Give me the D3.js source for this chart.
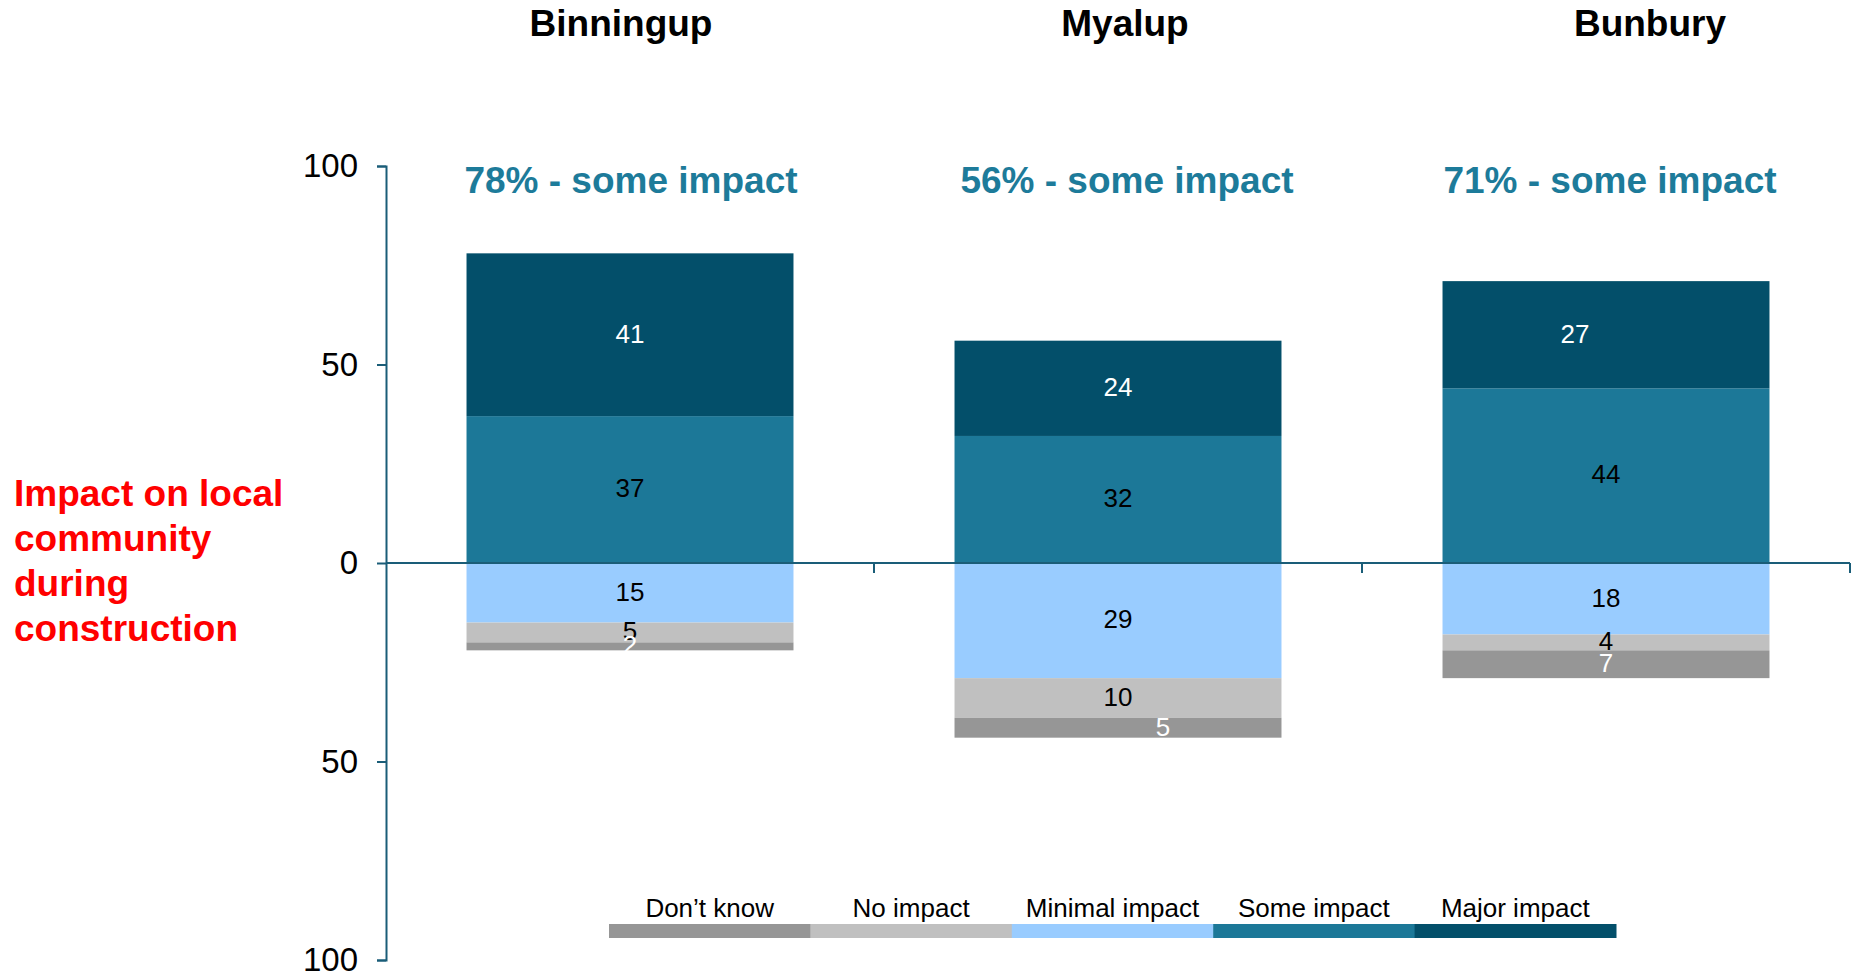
<!DOCTYPE html>
<html>
<head>
<meta charset="utf-8">
<script src="https://cdn.jsdelivr.net/npm/d3@7"></script>
<style>
  html, body { margin: 0; padding: 0; background: #fff; }
  svg { display: block; font-family: "Liberation Sans", Arial, sans-serif; }
</style>
</head>
<body>
<svg id="chart" width="1858" height="976"></svg>
<script>
// ---- data ----
const categories = ["Binningup", "Myalup", "Bunbury"];
const majorImpact = [41, 24, 27];
const someImpact = [37, 32, 44];
const minimalImpact = [15, 29, 18];
const noImpact = [5, 10, 4];
const dontKnow = [2, 5, 7];
const summaryLabels = ["78% - some impact", "56% - some impact", "71% - some impact"];
const yTickValues = [-100, -50, 0, 50, 100];
const legendLabels = ["Don’t know", "No impact", "Minimal impact", "Some impact", "Major impact"];
const axisTitleLines = ["Impact on local", "community", "during", "construction"];

// ---- styling / layout (not data) ----
const colors = {
  "Major impact": "#034f6a",
  "Some impact": "#1c7898",
  "Minimal impact": "#99ccff",
  "No impact": "#c0c0c0",
  "Don’t know": "#969696"
};
const labelColors = {
  "Major impact": "#ffffff",
  "Some impact": "#000000",
  "Minimal impact": "#000000",
  "No impact": "#000000",
  "Don’t know": "#ffffff"
};
const titleNudge = [-9, 7, 44];
const summaryNudge = [1, 9, 4];
const labelNudge = { "Bunbury|Major impact": -31, "Myalup|Don’t know": 45 };
const axisColor = "#1a5d78";

const rows = categories.map((c, i) => ({
  category: c,
  "Some impact": someImpact[i],
  "Major impact": majorImpact[i],
  "Minimal impact": -minimalImpact[i],
  "No impact": -noImpact[i],
  "Don’t know": -dontKnow[i]
}));
const keys = ["Some impact", "Major impact", "Minimal impact", "No impact", "Don’t know"];
const series = d3.stack().keys(keys).offset(d3.stackOffsetDiverging)(rows);

const svg = d3.select("#chart");
const x = d3.scaleBand().domain(categories).range([386, 1850]).padding(0);
const y = d3.scaleLinear().domain([-100, 100]).range([960, 166]);
const barFrac = 0.67;
const barW = x.bandwidth() * barFrac;
const barOff = (x.bandwidth() - barW) / 2;

// bars
const g = svg.append("g");
series.forEach(s => {
  g.selectAll(null).data(s).join("rect")
    .attr("x", d => x(d.data.category) + barOff)
    .attr("width", barW)
    .attr("y", d => y(Math.max(d[0], d[1])))
    .attr("height", d => Math.abs(y(d[0]) - y(d[1])))
    .attr("fill", colors[s.key]);
});

// bar labels
series.forEach(s => {
  g.selectAll(null).data(s).join("text")
    .attr("x", d => x(d.data.category) + x.bandwidth() / 2 + (labelNudge[d.data.category + "|" + s.key] || 0))
    .attr("y", d => y((d[0] + d[1]) / 2))
    .attr("dy", "0.3em")
    .attr("text-anchor", "middle")
    .attr("font-size", 26)
    .attr("fill", labelColors[s.key])
    .text(d => Math.abs(d[1] - d[0]));
});

// y axis
const yAxis = svg.append("g")
  .attr("transform", `translate(${x.range()[0]},0)`)
  .call(d3.axisLeft(y).tickValues(yTickValues).tickFormat(d => Math.abs(d)).tickSize(9).tickPadding(19));
yAxis.select(".domain").attr("stroke", axisColor).attr("stroke-width", 2);
yAxis.selectAll(".tick line").attr("stroke", axisColor).attr("stroke-width", 2);
yAxis.selectAll(".tick text").attr("font-size", 33).attr("fill", "#000")
  .attr("font-family", "Liberation Sans, Arial, sans-serif");

// x axis (zero line with boundary ticks)
const xAxis = svg.append("g").attr("transform", `translate(0,${y(0)})`);
xAxis.append("line")
  .attr("x1", x.range()[0]).attr("x2", x.range()[1])
  .attr("stroke", axisColor).attr("stroke-width", 2);
xAxis.selectAll(null).data(categories).join("line")
  .attr("x1", d => x(d) + x.bandwidth()).attr("x2", d => x(d) + x.bandwidth())
  .attr("y1", 0).attr("y2", 10)
  .attr("stroke", axisColor).attr("stroke-width", 2);

// category titles
svg.selectAll(null).data(categories).join("text")
  .attr("x", (d, i) => x(d) + x.bandwidth() / 2 + titleNudge[i])
  .attr("y", 36)
  .attr("text-anchor", "middle")
  .attr("font-size", 37).attr("font-weight", "bold").attr("fill", "#000")
  .text(d => d);

// summary labels
svg.selectAll(null).data(summaryLabels).join("text")
  .attr("x", (d, i) => x(categories[i]) + x.bandwidth() / 2 + summaryNudge[i])
  .attr("y", 193)
  .attr("text-anchor", "middle")
  .attr("font-size", 37).attr("font-weight", "bold").attr("fill", "#1d7b9a")
  .text(d => d);

// y axis title
svg.append("text")
  .attr("x", 14).attr("y", 506)
  .attr("font-size", 37).attr("font-weight", "bold").attr("fill", "#ff0000")
  .selectAll("tspan").data(axisTitleLines).join("tspan")
  .attr("x", 14).attr("dy", (d, i) => i === 0 ? 0 : 45)
  .text(d => d);

// legend
const lx = d3.scaleBand().domain(legendLabels).range([609, 1616]).padding(0);
const legend = svg.append("g");
legend.selectAll(null).data(legendLabels).join("rect")
  .attr("x", d => lx(d)).attr("width", lx.bandwidth() + 0.5)
  .attr("y", 924).attr("height", 14)
  .attr("fill", d => colors[d]);
legend.selectAll(null).data(legendLabels).join("text")
  .attr("x", d => lx(d) + lx.bandwidth() / 2)
  .attr("y", 917)
  .attr("text-anchor", "middle")
  .attr("font-size", 26).attr("fill", "#000")
  .text(d => d);
</script>
</body>
</html>
